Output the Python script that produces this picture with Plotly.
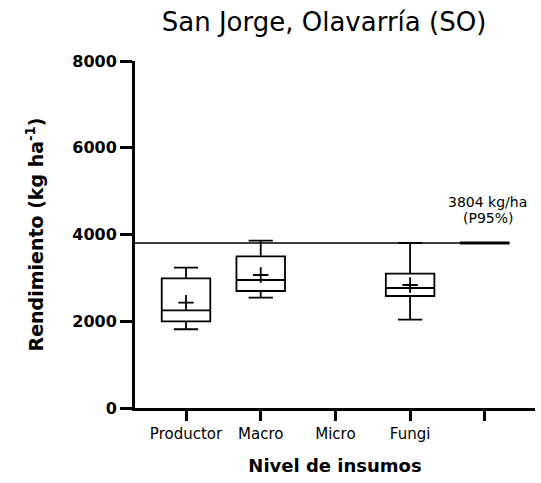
import plotly.graph_objects as go

# ---- data ----
categories = ["Productor", "Macro", "Micro", "Fungi", ""]
box_cats = ["Productor", "Macro", "Fungi"]
lower = [1815, 2545, 2038]
q1 = [1999, 2697, 2582]
median = [2252, 2951, 2767]
q3 = [2990, 3497, 3098]
upper = [3237, 3859, 3804]
mean = [2430, 3066, 2836]
p95 = 3804
p95_cat = ""
y_ticks = [0, 2000, 4000, 6000, 8000]

pos = {c: i for i, c in enumerate(categories)}
bx = [pos[c] for c in box_cats]

FONT = "DejaVu Sans"
fig = go.Figure()

# P95 reference line (thin) from axis start to the P95 column
x0, x1 = -0.683, 4.672
fig.add_trace(go.Scatter(x=[x0, pos[p95_cat] + 0.33], y=[p95, p95], mode="lines",
                         line=dict(color="black", width=1.5), showlegend=False, hoverinfo="skip"))
# P95 column (degenerate box)
fig.add_trace(go.Scatter(x=[pos[p95_cat] - 0.33, pos[p95_cat] + 0.33], y=[p95, p95], mode="lines",
                         line=dict(color="black", width=3), showlegend=False, hoverinfo="skip"))

fig.add_trace(go.Box(x=bx, q1=q1, median=median, q3=q3, lowerfence=lower, upperfence=upper,
                     width=0.65, whiskerwidth=0.5, fillcolor="white",
                     line=dict(color="black", width=1.8), showlegend=False, boxpoints=False))

fig.add_trace(go.Scatter(x=bx, y=mean, mode="markers",
                         marker=dict(symbol="cross-thin", size=11, line=dict(color="black", width=1.8)),
                         showlegend=False))

fig.add_annotation(x=pos[p95_cat], y=p95, text=f"{p95} kg/ha", showarrow=False,
                   xanchor="center", yanchor="middle", yshift=41, xshift=3,
                   font=dict(family=FONT, size=14, color="black"))
fig.add_annotation(x=pos[p95_cat], y=p95, text="(P95%)", showarrow=False,
                   xanchor="center", yanchor="middle", yshift=25, xshift=3,
                   font=dict(family=FONT, size=14, color="black"))

fig.update_layout(
    width=541, height=483,
    margin=dict(l=135, r=6, t=61, b=75),
    plot_bgcolor="white", paper_bgcolor="white",
    title=dict(text="San Jorge, Olavarría (SO)", x=324 / 541, xanchor="center", xref="container",
               y=1 - 22 / 483, yanchor="middle", yref="container",
               font=dict(family=FONT, size=26, color="black")),
)
fig.update_xaxes(range=[x0, x1], tickmode="array", tickvals=list(range(len(categories))),
                 ticktext=categories, showgrid=False, zeroline=False,
                 showline=True, linecolor="black", linewidth=3,
                 ticks="outside", ticklen=10, tickwidth=2.5, tickcolor="black",
                 tickfont=dict(family=FONT, size=15, color="black"),
                 title=dict(text="Nivel de insumos", standoff=18,
                            font=dict(family=FONT, size=18, color="black", weight="bold")))
fig.update_yaxes(range=[0, 8000], tickmode="array", tickvals=y_ticks,
                 showgrid=False, zeroline=False,
                 showline=True, linecolor="black", linewidth=3,
                 ticks="outside", ticklen=12, tickwidth=2.5, tickcolor="black",
                 tickfont=dict(family=FONT, size=16, color="black", weight="bold"),
                 title=dict(text="Rendimiento (kg ha<sup>-1</sup>)", standoff=24,
                            font=dict(family=FONT, size=19, color="black", weight="bold")))

fig.write_html("out.html")
